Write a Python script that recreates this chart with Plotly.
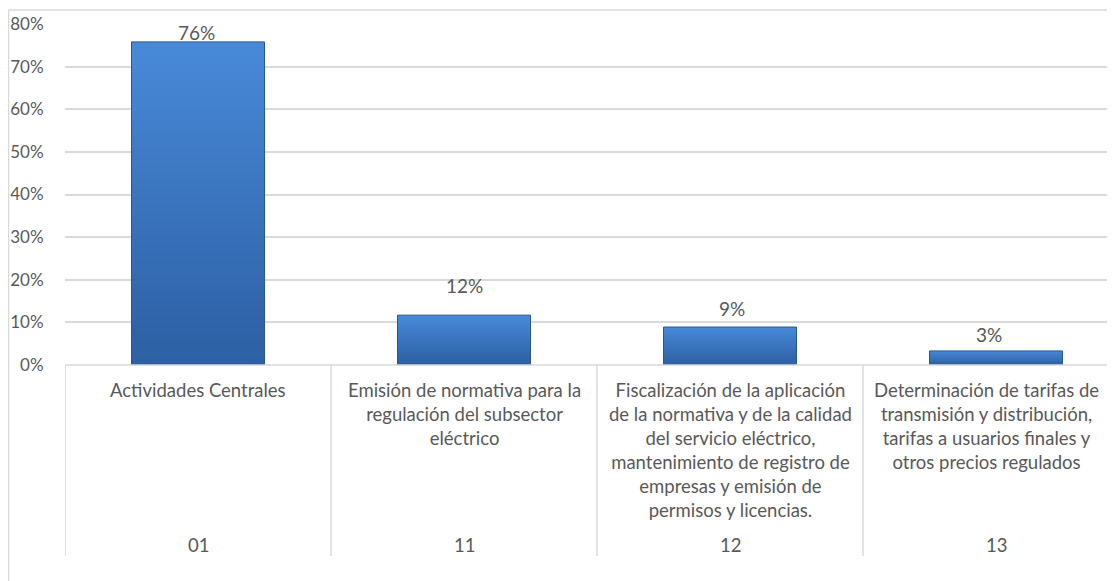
import plotly.graph_objects as go

# ---- data ----
codes = ["01", "11", "12", "13"]
descriptions = [
    "Actividades Centrales",
    "Emisión de normativa para la<br>regulación del subsector<br>eléctrico",
    "Fiscalización de la aplicación<br>de la normativa y de la calidad<br>del servicio eléctrico,<br>mantenimiento de registro de<br>empresas y emisión de<br>permisos y licencias.",
    "Determinación de tarifas de<br>transmisión y distribución,<br>tarifas a usuarios finales y<br>otros precios regulados",
]
shares = [0.758, 0.117, 0.089, 0.033]
y_ticks = [0, 0.1, 0.2, 0.3, 0.4, 0.5, 0.6, 0.7, 0.8]

# ---- style ----
label_shift = [9, 30, 19, 16]   # px offsets of data labels above bars
label_xshift = [-2, 0, 2, -7]
desc_xshift = [0, 0, 0, -10]
FONT = "Lato"
TXT = "#595959"
GRID = "#d9d9d9"
FS = 19
FS_DESC = 18.5
FS_TICK = 17
OFF = 8  # page body margin
LEFT_VP = 65
W, H = 1115 - OFF, 581 - OFF
L, R, T, B = LEFT_VP - OFF, 0, 24 - OFF, 581 - 365
plot_w = W - L - R
plot_h = H - T - B
CAT_W = 266.0


def py_paper(py):  # py: viewport pixel
    return (581 - B - py) / plot_h


def px_paper(px):
    return (px - LEFT_VP) / plot_w


def lerp(c1, c2, t):
    return "#%02x%02x%02x" % tuple(round(a + (b - a) * t) for a, b in zip(c1, c2))


top_c = (0x48, 0x89, 0xd8)
bot_c = (0x2d, 0x60, 0xa4)

fig = go.Figure()
N = 40
for k in range(N):
    frac = 1 - k / N
    col = lerp(top_c, bot_c, k / (N - 1))
    fig.add_trace(go.Bar(
        x=codes, y=[v * frac for v in shares], width=0.5,
        marker=dict(color=col, line=dict(width=0)),
        hoverinfo="skip", showlegend=False,
    ))
fig.add_trace(go.Bar(
    x=codes, y=shares, width=0.5,
    marker=dict(color="rgba(0,0,0,0)", line=dict(color="#2a558f", width=1)),
    hoverinfo="skip", showlegend=False,
))

fig.update_layout(
    barmode="overlay",
    width=W, height=H,
    margin=dict(l=L, r=R, t=T, b=B, pad=0),
    paper_bgcolor="white", plot_bgcolor="white",
    font=dict(family=FONT, color=TXT, size=FS),
    xaxis=dict(type="category", range=[-0.5, -0.5 + plot_w / CAT_W],
               showticklabels=False, showgrid=False, zeroline=False,
               showline=False, ticks=""),
    yaxis=dict(range=[0, 0.8], tickvals=y_ticks, tickformat=".0%",
               showgrid=True, gridcolor=GRID, gridwidth=1.5,
               zeroline=False, showline=False,
               ticks="outside", ticklen=17, tickcolor="rgba(0,0,0,0)",
               tickfont=dict(family=FONT, color=TXT, size=FS_TICK)),
)

annotations = []
for i, (c, v, s, xs) in enumerate(zip(codes, shares, label_shift, label_xshift)):
    annotations.append(dict(x=i, y=v, xref="x", yref="y", text=f"{round(v*100)}%",
                            showarrow=False, yanchor="middle", yshift=s, xshift=xs,
                            font=dict(family=FONT, color=TXT, size=FS)))
for i, (c, d, xs) in enumerate(zip(codes, descriptions, desc_xshift)):
    annotations.append(dict(x=i, y=py_paper(377), xref="x", yref="paper", text=d,
                            showarrow=False, yanchor="top", align="center", xshift=xs,
                            font=dict(family=FONT, color=TXT, size=FS_DESC)))
    annotations.append(dict(x=i, y=py_paper(545), xref="x", yref="paper", text=c,
                            showarrow=False, yanchor="middle",
                            font=dict(family=FONT, color=TXT, size=FS_DESC)))
fig.update_layout(annotations=annotations)

shapes = []
for i in range(len(codes)):
    shapes.append(dict(type="line", xref="x", yref="paper", x0=i - 0.5, x1=i - 0.5,
                       y0=0, y1=py_paper(556), line=dict(color=GRID, width=1.5)))
shapes.append(dict(type="line", xref="paper", yref="paper", x0=0, x1=1, y0=0, y1=0,
                   line=dict(color=GRID, width=1.5)))
shapes.append(dict(type="line", xref="paper", yref="paper", x0=px_paper(8.5), x1=1.01,
                   y0=py_paper(10), y1=py_paper(10), line=dict(color=GRID, width=1.5)))
shapes.append(dict(type="line", xref="paper", yref="paper", x0=px_paper(8.5), x1=px_paper(8.5),
                   y0=py_paper(10), y1=py_paper(590), line=dict(color=GRID, width=1.5)))
fig.update_layout(shapes=shapes)

fig.write_html("out.html")
